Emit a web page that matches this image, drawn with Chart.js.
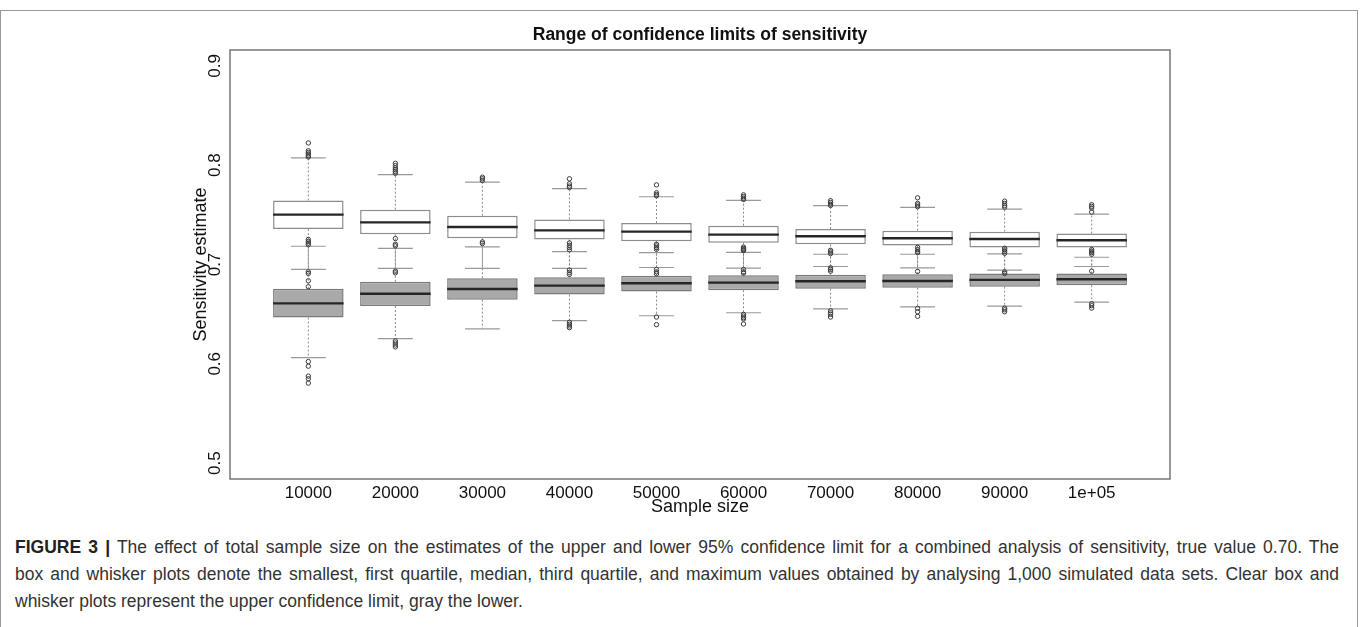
<!DOCTYPE html>
<html>
<head>
<meta charset="utf-8">
<script src="https://cdn.jsdelivr.net/npm/chart.js@4.4.1/dist/chart.umd.min.js"></script>
<style>
  html, body { margin: 0; padding: 0; background: #fff; }
  body { width: 1360px; height: 627px; position: relative; overflow: hidden; font-family: "Liberation Sans", Arial, sans-serif; }
  #frame { position: absolute; left: 0; top: 10px; width: 1356px; height: 640px; border: 1.5px solid #9a9a9a; }
  #wrap { position: absolute; left: 0; top: 0; width: 1360px; height: 522px; }
  #caption { position: absolute; left: 15px; top: 534px; width: 1324px; color: #333; font-size: 17.5px; line-height: 27px; }
  #caption .line { text-align: justify; text-align-last: justify; }
  #caption .line.last { text-align-last: left; }
  #caption b { color: #222; }
</style>
</head>
<body>
<div id="frame"></div>
<div id="wrap"><canvas id="boxChart"></canvas></div>
<div id="caption">
  <div class="line"><b>FIGURE 3 |</b> The effect of total sample size on the estimates of the upper and lower 95% confidence limit for a combined analysis of sensitivity, true value 0.70. The</div>
  <div class="line">box and whisker plots denote the smallest, first quartile, median, third quartile, and maximum values obtained by analysing 1,000 simulated data sets. Clear box and</div>
  <div class="line last">whisker plots represent the upper confidence limit, gray the lower.</div>
</div>
<script>
// Sample sizes (x categories)
const sampleLabels = ['10000', '20000', '30000', '40000', '50000', '60000', '70000', '80000', '90000', '1e+05'];
const yTicks = [0.5, 0.6, 0.7, 0.8, 0.9];

// Upper confidence limit (clear boxes)
const upperLow  = [0.6950, 0.6960, 0.6960, 0.6960, 0.6970, 0.6963, 0.6980, 0.6966, 0.6943, 0.6980];
const upperQ1   = [0.7357, 0.7304, 0.7264, 0.7251, 0.7234, 0.7220, 0.7204, 0.7191, 0.7170, 0.7170];
const upperMed  = [0.7502, 0.7424, 0.7377, 0.7344, 0.7331, 0.7301, 0.7284, 0.7264, 0.7257, 0.7244];
const upperQ3   = [0.7645, 0.7552, 0.7491, 0.7454, 0.7417, 0.7391, 0.7357, 0.7341, 0.7331, 0.7311];
const upperHigh = [0.8073, 0.7906, 0.7829, 0.7765, 0.7682, 0.7645, 0.7592, 0.7575, 0.7558, 0.7508];
const upperOutliers = [
    [0.8224, 0.8146, 0.8129, 0.8113, 0.8096, 0.8083, 0.6926, 0.6910, 0.6836, 0.6776],
    [0.8019, 0.7996, 0.7972, 0.7953, 0.7936, 0.7919, 0.6933, 0.6916],
    [0.7879, 0.7863, 0.7846],
    [0.7863, 0.7813, 0.7790, 0.7776, 0.6943, 0.6920, 0.6900],
    [0.7802, 0.7722, 0.7705, 0.7692, 0.6950, 0.6926, 0.6906],
    [0.7701, 0.7684, 0.7668, 0.7655, 0.6950, 0.6926, 0.6913],
    [0.7642, 0.7625, 0.7608, 0.7595, 0.6966, 0.6950, 0.6933],
    [0.7672, 0.7615, 0.7599, 0.7582, 0.6930],
    [0.7638, 0.7615, 0.7595, 0.7578, 0.6926, 0.6910],
    [0.7602, 0.7585, 0.7568, 0.7528, 0.6933]
];

// Lower confidence limit (gray boxes)
const lowerLow  = [0.6063, 0.6254, 0.6352, 0.6435, 0.6484, 0.6514, 0.6554, 0.6574, 0.6581, 0.6622];
const lowerQ1   = [0.6466, 0.6582, 0.6646, 0.6697, 0.6727, 0.6741, 0.6757, 0.6767, 0.6777, 0.6791];
const lowerMed  = [0.6609, 0.6706, 0.6753, 0.6787, 0.6811, 0.6817, 0.6831, 0.6834, 0.6845, 0.6851];
const lowerQ3   = [0.6755, 0.6826, 0.6861, 0.6871, 0.6887, 0.6893, 0.6897, 0.6903, 0.6910, 0.6910];
const lowerHigh = [0.7184, 0.7163, 0.7177, 0.7130, 0.7120, 0.7123, 0.7103, 0.7103, 0.7106, 0.7073];
const lowerOutliers = [
    [0.7253, 0.7233, 0.7216, 0.7199, 0.6023, 0.5976, 0.5876, 0.5849, 0.5806],
    [0.7261, 0.7204, 0.7187, 0.6230, 0.6210, 0.6190, 0.6170],
    [0.7227, 0.7211],
    [0.7217, 0.7194, 0.7170, 0.7150, 0.6418, 0.6398, 0.6381, 0.6364],
    [0.7204, 0.7187, 0.7170, 0.7153, 0.6471, 0.6394],
    [0.7175, 0.7162, 0.7150, 0.7140, 0.6498, 0.6481, 0.6464, 0.6451, 0.6401],
    [0.7143, 0.7126, 0.7110, 0.6534, 0.6514, 0.6498, 0.6471],
    [0.7173, 0.7150, 0.7133, 0.7120, 0.6558, 0.6524, 0.6478],
    [0.7164, 0.7147, 0.7130, 0.7113, 0.6561, 0.6544, 0.6524],
    [0.7151, 0.7134, 0.7120, 0.7103, 0.6605, 0.6585, 0.6561]
];

// half widths in x units (R boxwex 0.8, staple 0.4)
const BOX_HALF = 0.405;
const CAP_HALF = 0.2;

// Builders: turn the arrays into line segments separated by gaps
function vertSegments(from, to) {
    const pts = [];
    from.forEach((v, i) => {
        pts.push({ x: i + 1, y: v }, { x: i + 1, y: to[i] }, { x: i + 1, y: null });
    });
    return pts;
}

function horizSegments(values, half) {
    const pts = [];
    values.forEach((v, i) => {
        pts.push({ x: i + 1 - half, y: v }, { x: i + 1 + half, y: v }, { x: i + 1, y: null });
    });
    return pts;
}

function outlierPoints(lists) {
    const pts = [];
    lists.forEach((list, i) => list.forEach(v => pts.push({ x: i + 1, y: v })));
    return pts;
}

function boxRanges(q1, q3) {
    return q1.map((v, i) => ({ x: i + 1, y: [v, q3[i]] }));
}

const lineStyle = (color, width, dash, order) => ({
    type: 'line',
    borderColor: color,
    borderWidth: width,
    borderDash: dash,
    pointRadius: 0,
    spanGaps: false,
    fill: false,
    order: order
});

// Outer frame of the plot region
const plotFrame = {
    id: 'plotFrame',
    afterDraw(chart) {
        const { ctx, chartArea: a } = chart;
        ctx.save();
        ctx.strokeStyle = '#777';
        ctx.lineWidth = 1.5;
        ctx.strokeRect(a.left, a.top, a.right - a.left, a.bottom - a.top);
        ctx.restore();
    }
};

const ctx = document.getElementById('boxChart');

new Chart(ctx, {
    type: 'bar',
    data: {
        datasets: [
            { label: 'Upper whiskers', data: [...vertSegments(upperQ3, upperHigh), ...vertSegments(upperQ1, upperLow)], ...lineStyle('#8a8a8a', 1, [2, 2], 6) },
            { label: 'Lower whiskers', data: [...vertSegments(lowerQ3, lowerHigh), ...vertSegments(lowerQ1, lowerLow)], ...lineStyle('#8a8a8a', 1, [2, 2], 6) },
            { label: 'Caps', data: [...horizSegments(upperHigh, CAP_HALF), ...horizSegments(upperLow, CAP_HALF), ...horizSegments(lowerHigh, CAP_HALF), ...horizSegments(lowerLow, CAP_HALF)], ...lineStyle('#999', 1.2, [], 5) },
            {
                label: 'Upper limit',
                data: boxRanges(upperQ1, upperQ3),
                backgroundColor: '#ffffff',
                borderColor: '#8c8c8c',
                borderWidth: 1.5,
                borderSkipped: false,
                grouped: false,
                barPercentage: 0.81,
                categoryPercentage: 1,
                order: 4
            },
            {
                label: 'Lower limit',
                data: boxRanges(lowerQ1, lowerQ3),
                backgroundColor: '#a9a9a9',
                borderColor: '#7a7a7a',
                borderWidth: 1.5,
                borderSkipped: false,
                grouped: false,
                barPercentage: 0.81,
                categoryPercentage: 1,
                order: 4
            },
            { label: 'Medians', data: [...horizSegments(upperMed, BOX_HALF), ...horizSegments(lowerMed, BOX_HALF)], ...lineStyle('#262626', 2.4, [], 3) },
            {
                type: 'line',
                label: 'Outliers',
                data: [...outlierPoints(upperOutliers), ...outlierPoints(lowerOutliers)],
                showLine: false,
                pointStyle: 'circle',
                pointRadius: 2.2,
                pointBorderWidth: 1,
                pointBorderColor: '#3c3c3c',
                pointBackgroundColor: 'rgba(255,255,255,0)',
                order: 2
            }
        ]
    },
    options: {
        responsive: true,
        maintainAspectRatio: false,
        animation: false,
        layout: { padding: { left: 40, right: 0, top: 0, bottom: 0 } },
        plugins: {
            legend: { display: false },
            tooltip: { enabled: false },
            title: {
                display: true,
                text: 'Range of confidence limits of sensitivity',
                color: '#111',
                font: { family: 'Liberation Sans', size: 17.5, weight: 'bold' },
                padding: { top: 25, bottom: 4 }
            }
        },
        scales: {
            x: {
                type: 'linear',
                min: 0.1,
                max: 10.9,
                offset: false,
                grid: { display: false, drawTicks: false, offset: false },
                border: { display: false },
                afterBuildTicks: scale => {
                    scale.ticks = sampleLabels.map((_, i) => ({ value: i + 1 }));
                },
                afterFit: scale => { scale.height = 43; },
                ticks: {
                    color: '#111',
                    padding: 4,
                    maxRotation: 0,
                    autoSkip: false,
                    font: { family: 'Liberation Sans', size: 17 },
                    callback: value => sampleLabels[value - 1]
                },
                title: {
                    display: true,
                    text: 'Sample size',
                    color: '#111',
                    font: { family: 'Liberation Sans', size: 18 },
                    padding: { top: 0, bottom: 4 }
                }
            },
            y: {
                min: 0.484,
                max: 0.916,
                grid: { display: false, drawTicks: false },
                border: { display: false },
                afterBuildTicks: scale => {
                    scale.ticks = yTicks.map(v => ({ value: v }));
                },
                afterFit: scale => { scale.width = 190; },
                ticks: {
                    color: '#111',
                    padding: 3,
                    minRotation: 90,
                    maxRotation: 90,
                    crossAlign: 'center',
                    font: { family: 'Liberation Sans', size: 17 },
                    callback: value => value.toFixed(1)
                },
                title: {
                    display: true,
                    text: 'Sensitivity estimate',
                    color: '#111',
                    font: { family: 'Liberation Sans', size: 18 },
                    padding: { top: 150, bottom: 0 }
                }
            },
            // empty right-hand axis: keeps the plot box at the reference width
            yRight: {
                position: 'right',
                display: true,
                grid: { display: false, drawTicks: false },
                border: { display: false },
                ticks: { display: false },
                afterFit: scale => { scale.width = 190; }
            }
        }
    },
    plugins: [plotFrame]
});
</script>
</body>
</html>
